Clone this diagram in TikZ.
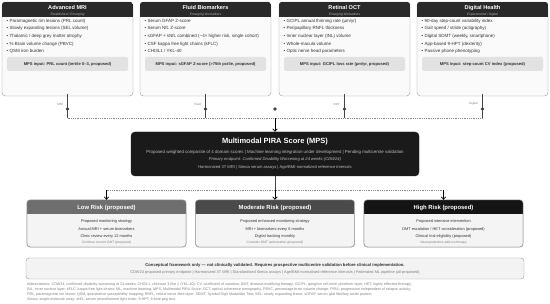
\documentclass[tikz,border=0pt]{standalone}
\usepackage{fontspec}
\setmainfont{Liberation Sans}
\usetikzlibrary{arrows.meta,calc}
\definecolor{hdr}{HTML}{2A2A2A}
\definecolor{mpsfill}{HTML}{1A1A1A}
\definecolor{lowc}{HTML}{6E6E6E}
\definecolor{modc}{HTML}{4A4A4A}
\definecolor{highc}{HTML}{141414}
\definecolor{bord}{HTML}{9A9A9A}
\definecolor{bodyf}{HTML}{FAFAFA}
\definecolor{riskf}{HTML}{F4F4F4}
\definecolor{inpf}{HTML}{E2E2E2}
\definecolor{notef}{HTML}{F3F3F3}
\definecolor{txt}{HTML}{333333}
\definecolor{lnc}{HTML}{444444}
\definecolor{dashc}{HTML}{8A8A8A}
\newcommand\fs[2]{\fontsize{#1}{#2}\selectfont}
\tikzset{
  topbody/.style={draw=bord,fill=bodyf,rounded corners=3.5pt,minimum width=131pt,minimum height=94pt,inner sep=0pt},
  riskbody/.style={draw=bord,fill=riskf,rounded corners=3.5pt,minimum width=159pt,minimum height=47pt,inner sep=0pt},
  boxline/.style={draw=bord,line width=0.5pt},
  ttl/.style={inner sep=0pt,text=white,font=\bfseries\fs{5.6}{6}},
  subttl/.style={inner sep=0pt,text=white!70!black,font=\itshape\fs{3.3}{4}},
  bul/.style={inner sep=0pt,text=txt,font=\fs{4.5}{5}},
  inp/.style={fill=inpf,rounded corners=2pt,minimum width=121pt,minimum height=14pt,inner sep=0pt,text=txt,font=\bfseries\fs{4.1}{5}},
  lbl/.style={inner sep=0pt,text=gray,font=\fs{3}{3.5}},
  dotn/.style={circle,fill=lnc,inner sep=0pt,minimum size=3.6pt},
  ln/.style={draw=lnc,line width=0.8pt},
  dashln/.style={draw=dashc,line width=0.6pt,dash pattern=on 1pt off 0.8pt},
  arr/.style={draw=black,line width=0.7pt,-{Straight Barb[length=2.5pt,width=4.5pt]}},
  mpsbox/.style={fill=mpsfill,draw=mpsfill,rounded corners=4pt,minimum width=288pt,minimum height=44pt,inner sep=0pt},
  mpst/.style={inner sep=0pt,text=white,font=\bfseries\fs{7.5}{8}},
  mpsl/.style={inner sep=0pt,text=white!75!black,font=\fs{4.4}{5}},
  mpsi/.style={inner sep=0pt,text=white!75!black,font=\itshape\fs{4.1}{5}},
  mpsm/.style={inner sep=0pt,text=white!75!black,font=\fs{4.1}{5}},
  risktitle/.style={inner sep=0pt,text=white,font=\bfseries\fs{5.9}{6.5}},
  riskline/.style={inner sep=0pt,text=txt,font=\fs{3.9}{4.5}},
  riskit/.style={inner sep=0pt,text=gray,font=\itshape\fs{3.3}{4}},
  notebox/.style={draw=bord,fill=notef,rounded corners=3pt,minimum width=498pt,minimum height=21pt,inner sep=0pt},
  noteb/.style={inner sep=0pt,text=txt,font=\bfseries\fs{4.2}{4.5}},
  notel/.style={inner sep=0pt,text=gray,font=\fs{3.9}{4.5}},
  abbr/.style={inner sep=0pt,text=gray,font=\fs{3.65}{4},anchor=base west},
}
\newcommand\topbox[6]{%
  \node[topbody] (#1) at (#2,49) {};
  \begin{scope}
    \clip[rounded corners=3.5pt] (#1.north west) rectangle (#1.south east);
    \fill[hdr] (#1.north west) rectangle ([yshift=-15pt]#1.north east);
  \end{scope}
  \node[ttl] (#1t) at (#2,8) {#3};
  \node[subttl] (#1s) at (#2,14.6) {#4};
  \foreach \t [count=\i] in {#5}
    \node[bul,anchor=base west] (#1b\i) at (#2-61,14.8+7.6*\i) {• \t};
  \node[inp] (#1i) at (#2,64) {#6};
}
\newcommand\riskbox[8]{%
  \node[riskbody] (#1) at (#2,223.5) {};
  \begin{scope}
    \clip[rounded corners=3.5pt] (#1.north west) rectangle (#1.south east);
    \fill[#3] (#1.north west) rectangle ([yshift=-14pt]#1.north east);
  \end{scope}
  \draw[boxline,rounded corners=3.5pt] (#1.north west) rectangle (#1.south east);
  \node[risktitle] (#1t) at (#2,207.5) {#4};
  \node[riskline] (#1a) at (#2,221.5) {#5};
  \node[riskline] (#1b) at (#2,229) {#6};
  \node[riskline] (#1c) at (#2,236.5) {#7};
  \node[riskit] (#1d) at (#2,242.3) {#8};
}
\begin{document}
\begin{tikzpicture}[x=1pt,y=-1pt]
\useasboundingbox (0,0) rectangle (550,304);
\fill[white] (0,0) rectangle (550,304);

\topbox{mri}{67.5}{Advanced MRI}{Established / Emerging}%
 {{Paramagnetic rim lesions (PRL count)},{Slowly expanding lesions (SEL volume)},{Thalamic / deep grey matter atrophy},{\% Brain volume change (PBVC)},{QSM iron burden}}%
 {MPS input: PRL count (tertile 0–3, proposed)}
\topbox{fluid}{205.5}{Fluid Biomarkers}{Emerging biomarkers}%
 {{Serum GFAP Z-score},{Serum NfL Z-score},{sGFAP + sNfL combined (\textasciitilde 4× higher risk, single cohort)},{CSF kappa free light chains (kFLC)},{CHI3L1 / YKL-40}}%
 {MPS input: sGFAP Z-score (>75th pctile, proposed)}
\topbox{oct}{344.5}{Retinal OCT}{Emerging biomarkers}%
 {{GCIPL annual thinning rate (µm/yr)},{Peripapillary RNFL thickness},{Inner nuclear layer (INL) volume},{Whole-macula volume},{Optic nerve head parameters}}%
 {MPS input: GCIPL loss rate (µm/yr, proposed)}
\topbox{dig}{482.5}{Digital Health}{Experimental / digital}%
 {{90-day step-count variability index},{Gait speed / stride (actigraphy)},{Digital SDMT (weekly, smartphone)},{App-based 9-HPT (dexterity)},{Passive phone phenotyping}}%
 {MPS input: step-count CV index (proposed)}

% upper connectors
\coordinate (mrij) at (67.5,118);
\coordinate (fluidj) at (205.5,118);
\coordinate (octj) at (344.5,118);
\coordinate (digj) at (482.5,118);
\coordinate (hubin) at (275,118);
\draw[dashln] (mrij) -- (digj);
\foreach \n/\l in {mri/MRI,fluid/Fluid,oct/OCT,dig/Digital}{
  \draw[ln] ([yshift=2pt]\n.south) -- (\n j);
  \node[dotn] (\n d) at ($(\n j)+(0,-9)$) {};
  \node[lbl,anchor=east] (\n l) at ($(\n j)+(-4.5,-14)$) {\l};
}
\node[dotn] (hubdot) at (275,109) {};

% MPS
\node[mpsbox] (mps) at (275,154) {};
\draw[arr] (hubin) -- (mps.north);
\node[mpst] (mpst) at (275,142) {Multimodal PIRA Score (MPS)};
\node[mpsl] (mps1) at (275,152) {Proposed weighted composite of 4 domain scores | Machine learning integration under development | Pending multicentre validation};
\node[mpsi] (mps2) at (275,159.8) {Primary endpoint: Confirmed Disability Worsening at 24 weeks (CDW24)};
\node[mpsm] (mps3) at (275,167.3) {Harmonized 3T MRI | Simoa serum assays | Age/BMI-normalized reference intervals};

% risk boxes
\riskbox{low}{106.5}{lowc}{Low Risk (proposed)}{Proposed monitoring strategy}{Annual MRI + serum biomarkers}{Clinic review every 12 months}{Continue current DMT (proposed)}
\riskbox{mod}{275}{modc}{Moderate Risk (proposed)}{Proposed enhanced monitoring strategy}{MRI + biomarkers every 6 months}{Digital tracking monthly}{Consider DMT optimisation (proposed)}
\riskbox{high}{443.5}{highc}{High Risk (proposed)}{Proposed intensive intervention}{DMT escalation / HET consideration (proposed)}{Clinical trial eligibility (proposed)}{Neuroprotective add-on therapy}

\coordinate (hubout) at (275,190);
\coordinate (lowj) at (106.5,190);
\coordinate (highj) at (443.5,190);
\draw[ln] (mps.south) -- (hubout);
\draw[dashln] (lowj) -- (highj);
\draw[arr] (lowj) -- (low.north);
\draw[arr] (hubout) -- (mod.north);
\draw[arr] (highj) -- (high.north);

% note
\node[notebox] (note) at (275,268.5) {};
\node[noteb] (note1) at (275,265) {Conceptual framework only — not clinically validated. Requires prospective multicentre validation before clinical implementation.};
\node[notel] (note2) at (275,272.5) {CDW24 proposed primary endpoint | Harmonized 3T MRI | Standardised Simoa assays | Age/BMI-normalised reference intervals | Federated ML pipeline (all proposed)};

% abbreviations
\node[abbr] (ab1) at (27,285.2) {Abbreviations: CDW24, confirmed disability worsening at 24 weeks; CHI3L1, chitinase 3-like 1 (YKL-40); CV, coefficient of variation; DMT, disease-modifying therapy; GCIPL, ganglion cell-inner plexiform layer; HET, highly effective therapy;};
\node[abbr] (ab2) at (27,290.2) {INL, inner nuclear layer; kFLC, kappa free light chains; ML, machine learning; MPS, Multimodal PIRA Score; OCT, optical coherence tomography; PBVC, percentage brain volume change; PIRA, progression independent of relapse activity;};
\node[abbr] (ab3) at (27,295.2) {PRL, paramagnetic rim lesion; QSM, quantitative susceptibility mapping; RNFL, retinal nerve fibre layer; SDMT, Symbol Digit Modalities Test; SEL, slowly expanding lesion; sGFAP, serum glial fibrillary acidic protein;};
\node[abbr] (ab4) at (27,300.2) {Simoa, single-molecule array; sNfL, serum neurofilament light chain; 9-HPT, 9-hole peg test.};
\end{tikzpicture}
\end{document}
